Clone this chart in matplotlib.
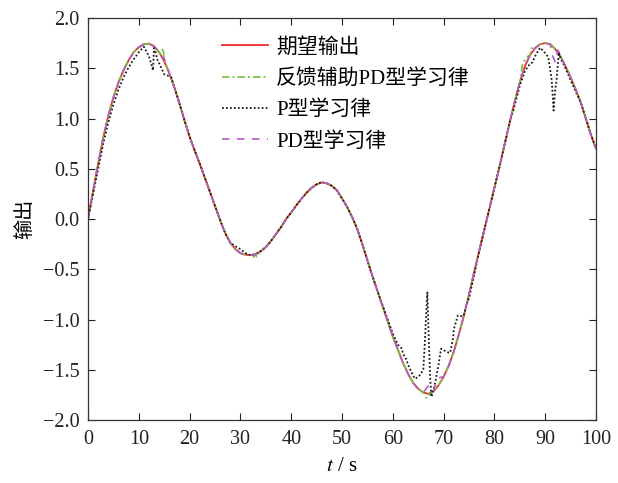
import matplotlib
matplotlib.use('Agg')
import matplotlib.pyplot as plt

plt.rcParams['font.family'] = ['Liberation Serif', 'Noto Sans CJK SC', 'DejaVu Sans']
plt.rcParams['mathtext.fontset'] = 'stix'
plt.rcParams['axes.unicode_minus'] = True

# 期望输出 (每 1 s 读一个点)
t_desired = list(range(0, 101))
y_desired = [
    0.00, 0.28, 0.55, 0.81, 1.03, 1.21, 1.36, 1.48, 1.58, 1.66,
    1.71, 1.74, 1.745, 1.72, 1.66, 1.57, 1.45, 1.31, 1.15, 0.98,
    0.82, 0.68, 0.55, 0.41, 0.27, 0.13, -0.01, -0.14, -0.235, -0.30,
    -0.34, -0.355, -0.36, -0.35, -0.32, -0.28, -0.22, -0.15, -0.08, 0.00,
    0.065, 0.135, 0.20, 0.26, 0.31, 0.345, 0.365, 0.355, 0.33, 0.285,
    0.205, 0.12, 0.02, -0.10, -0.25, -0.41, -0.57, -0.72, -0.87, -1.02,
    -1.17, -1.30, -1.43, -1.54, -1.63, -1.69, -1.725, -1.74, -1.715, -1.655,
    -1.57, -1.46, -1.32, -1.15, -0.96, -0.75, -0.53, -0.32, -0.11, 0.10,
    0.31, 0.52, 0.74, 0.96, 1.17, 1.36, 1.52, 1.63, 1.70, 1.74,
    1.75, 1.74, 1.69, 1.62, 1.52, 1.41, 1.29, 1.16, 1.00, 0.84,
    0.70,
]

# 各学习律与期望输出不同的地方 (t: y)
fb_pd_diff = {
    14.3: 1.64, 14.8: 1.70, 15.1: 1.57,
    32.6: -0.38, 33.2: -0.375,
    66.6: -1.78, 67.2: -1.75,
    85.6: 1.56, 86: 1.58, 86.6: 1.62, 87.3: 1.70,
}
p_diff = {
    1: 0.25, 2: 0.50, 3: 0.75, 4: 0.96, 5: 1.14, 6: 1.29, 7: 1.41,
    8: 1.51, 9: 1.59, 10: 1.66, 11: 1.715, 12: 1.62, 12.8: 1.48,
    13.8: 1.56, 14: 1.55, 15: 1.44, 16: 1.42, 16.4: 1.41,
    29: -0.27, 30: -0.30, 31: -0.34,
    58: -0.86, 59: -1.00, 60: -1.14, 61: -1.25, 61.8: -1.29, 62: -1.34,
    62.7: -1.40, 63: -1.45, 64: -1.56, 64.4: -1.59, 65: -1.57, 65.4: -1.55,
    66: -1.50, 66.3: -1.24, 66.6: -0.91, 66.8: -0.73, 67: -1.07,
    67.35: -1.57, 67.6: -1.77, 68: -1.70, 68.3: -1.64, 69: -1.45,
    69.5: -1.29, 70: -1.30, 70.2: -1.31, 71: -1.33, 71.3: -1.33,
    71.9: -1.17, 72: -1.10, 72.8: -0.96, 73: -0.96, 73.8: -0.97,
    74: -0.95, 74.8: -0.81, 75: -0.79, 75.8: -0.61, 76: -0.56,
    84: 1.13, 85: 1.33, 86: 1.47, 86.6: 1.52, 87: 1.54, 87.5: 1.56,
    88: 1.62, 89: 1.705, 90: 1.65, 90.6: 1.61, 91: 1.48, 91.3: 1.375,
    91.65: 1.08, 92: 1.30, 92.2: 1.37, 92.7: 1.66, 93: 1.60, 94: 1.50,
    95: 1.38, 96: 1.27,
}
pd_diff = {
    11.5: 1.735, 12.5: 1.735, 14.2: 1.64, 14.6: 1.61, 15: 1.60,
    66.4: -1.70, 67: -1.66, 67.6: -1.70, 68.5: -1.62, 69: -1.58,
    91.4: 1.63, 92: 1.56, 92.5: 1.68,
}

labels = ['期望输出', '反馈辅助PD型学习律', 'P型学习律', 'PD型学习律']


def build(diff):
    pts = dict(zip(t_desired, y_desired))
    pts.update(diff)
    ts = sorted(pts)
    return ts, [pts[t] for t in ts]


fig = plt.figure(figsize=(6.18, 4.83), dpi=100)
ax = fig.add_axes([0.1424, 0.1304, 0.822, 0.8323])

ax.plot(t_desired, y_desired, color='#ee2a2a', lw=1.3, label=labels[0])
t1, y1 = build(fb_pd_diff)
ax.plot(t1, y1, color='#74c044', lw=1.2, ls=(0, (4.5, 1.8, 1.2, 1.8)), label=labels[1])
t2, y2 = build(p_diff)
ax.plot(t2, y2, color='#1a1a1a', lw=1.3, ls=(0, (1, 1.2)), label=labels[2])
t3, y3 = build(pd_diff)
ax.plot(t3, y3, color='#b45ec2', lw=1.2, ls=(0, (4.5, 4.5)), label=labels[3])

ax.set_xlim(0, 100)
ax.set_ylim(-2, 2)
ax.set_xticks(range(0, 101, 10))
ax.set_yticks([-2 + 0.5 * i for i in range(9)])
ax.set_yticklabels([f'{v:.1f}'.replace('-', '\u2212') for v in ax.get_yticks()])
ax.tick_params(direction='in', top=True, right=True, length=5, width=0.8,
               labelsize=14.5, colors='#222222')
ax.tick_params(axis='x', pad=7)
ax.tick_params(axis='y', pad=6)
for s in ax.spines.values():
    s.set_linewidth(0.9)
    s.set_color('#333333')

ax.set_xlabel('$t$ / s', fontsize=15, labelpad=6)
ax.set_ylabel('输出', fontsize=14.5, labelpad=6)

ax.legend(loc='upper left', bbox_to_anchor=(0.255, 0.962), frameon=False,
          fontsize=15, handlelength=2.2, handletextpad=0.4, labelspacing=0.56,
          borderpad=0.2, borderaxespad=0)

plt.savefig('out.png', dpi=100)
